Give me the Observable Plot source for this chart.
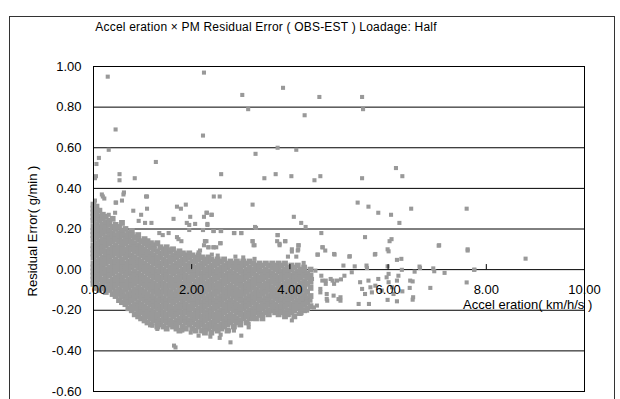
<!DOCTYPE html>
<html><head><meta charset="utf-8">
<script src="https://cdn.jsdelivr.net/npm/d3@7"></script>
<script src="https://cdn.jsdelivr.net/npm/@observablehq/plot@0.6"></script>
<style>
body{margin:0;background:#fff;font-family:"Liberation Sans",Arial,sans-serif;color:#000;}
#wrap{position:relative;width:620px;height:399px;overflow:hidden;background:#fff;}
#border{position:absolute;left:9px;top:16px;width:604px;height:400px;border:1px solid #333;}
#chart{position:absolute;left:0;top:0;}
#title{position:absolute;top:20px;left:0;width:532px;text-align:center;font-size:12px;letter-spacing:0.2px;white-space:nowrap;}
#ylab{position:absolute;left:32px;top:231px;transform:translate(-50%,-50%) rotate(-90deg);font-size:13px;white-space:nowrap;}
#xlab{position:absolute;left:463px;top:297px;font-size:13px;white-space:nowrap;}
</style></head>
<body>
<div id="wrap">
<div id="border"></div>
<div id="chart"></div>
<div id="title">Accel eration × PM Residual Error ( OBS-EST ) Loadage: Half</div>
<div id="ylab">Residual Error( g/min )</div>
<div id="xlab">Accel eration( km/h/s )</div>
</div>
<script>
const xTicks = [0, 2, 4, 6, 8, 10];
const yTicks = [-0.6, -0.4, -0.2, 0, 0.2, 0.4, 0.6, 0.8, 1.0];

// Dense cloud: x of each column and the y values read in that column
const denseX = [0.00,0.06,0.12,0.19,0.25,0.32,0.39,0.45,0.52,0.58,0.65,0.71,0.78,0.84,0.91,0.97,1.04,1.10,1.17,1.23,1.30,1.36,1.43,1.49,1.56,1.62,1.69,1.75,1.82,1.88,1.95,2.01,2.08,2.14,2.21,2.27,2.34,2.40,2.47,2.53,2.60,2.66,2.73,2.79,2.86,2.92,2.99,3.05,3.12,3.18,3.25,3.31,3.38,3.44,3.51,3.57,3.64,3.70,3.77,3.83,3.90,3.96,4.03,4.09,4.16,4.22,4.29,4.35,4.42];
const denseY = [
"0.32 0.30 0.28 0.26 0.24 0.21 0.19 0.17 0.15 0.12 0.10 0.08 0.06 0.03 0.01 -0.01 -0.03 -0.05 -0.07",
"0.31 0.29 0.27 0.25 0.22 0.20 0.18 0.16 0.13 0.11 0.09 0.07 0.04 0.02 0.00 -0.02 -0.04 -0.06 -0.09",
"0.29 0.26 0.24 0.21 0.19 0.17 0.14 0.12 0.10 0.08 0.05 0.03 0.01 -0.01 -0.03 -0.05 -0.08 -0.10",
"0.27 0.25 0.22 0.20 0.18 0.15 0.13 0.11 0.09 0.06 0.04 0.02 0.00 -0.02 -0.05 -0.07 -0.09",
"0.26 0.23 0.21 0.19 0.16 0.14 0.12 0.09 0.07 0.05 0.03 0.00 -0.02 -0.04 -0.06 -0.09 -0.11",
"0.24 0.22 0.19 0.17 0.15 0.13 0.10 0.08 0.06 0.04 0.01 -0.01 -0.03 -0.06 -0.08 -0.10",
"0.25 0.21 0.18 0.16 0.14 0.11 0.09 0.07 0.04 0.02 0.00 -0.02 -0.05 -0.07 -0.09 -0.12",
"0.22 0.20 0.17 0.15 0.12 0.10 0.08 0.05 0.03 0.01 -0.01 -0.04 -0.06 -0.08 -0.11 -0.13",
"0.21 0.18 0.16 0.14 0.11 0.09 0.07 0.04 0.02 0.00 -0.03 -0.05 -0.07 -0.10 -0.12 -0.15",
"0.23 0.19 0.17 0.14 0.12 0.10 0.08 0.05 0.03 0.01 -0.01 -0.04 -0.06 -0.08 -0.11 -0.13 -0.16",
"0.20 0.17 0.15 0.13 0.10 0.08 0.06 0.03 0.01 -0.01 -0.03 -0.06 -0.08 -0.10 -0.13 -0.15 -0.17",
"0.18 0.16 0.14 0.11 0.09 0.07 0.04 0.02 0.00 -0.02 -0.05 -0.07 -0.09 -0.12 -0.14 -0.16 -0.19",
"0.19 0.17 0.14 0.12 0.10 0.07 0.05 0.03 0.01 -0.02 -0.04 -0.06 -0.08 -0.11 -0.13 -0.15 -0.18 -0.20",
"0.16 0.13 0.11 0.09 0.06 0.04 0.02 -0.01 -0.03 -0.05 -0.07 -0.10 -0.12 -0.14 -0.17 -0.19 -0.22",
"0.17 0.15 0.12 0.10 0.08 0.05 0.03 0.01 -0.02 -0.04 -0.06 -0.09 -0.11 -0.13 -0.16 -0.18 -0.20 -0.23",
"0.14 0.11 0.09 0.07 0.04 0.02 0.00 -0.03 -0.05 -0.07 -0.10 -0.12 -0.14 -0.17 -0.19 -0.21 -0.24",
"0.15 0.13 0.10 0.08 0.06 0.03 0.01 -0.01 -0.04 -0.06 -0.08 -0.11 -0.13 -0.15 -0.18 -0.20 -0.22 -0.25",
"0.14 0.12 0.09 0.07 0.05 0.02 0.00 -0.02 -0.05 -0.07 -0.09 -0.12 -0.14 -0.16 -0.19 -0.21 -0.23 -0.26",
"0.13 0.11 0.08 0.06 0.04 0.01 -0.01 -0.03 -0.06 -0.08 -0.10 -0.13 -0.15 -0.17 -0.20 -0.22 -0.24 -0.27",
"0.12 0.10 0.07 0.05 0.03 0.00 -0.02 -0.04 -0.07 -0.09 -0.11 -0.14 -0.16 -0.18 -0.21 -0.23 -0.25",
"0.13 0.09 0.06 0.04 0.02 -0.01 -0.03 -0.05 -0.08 -0.10 -0.12 -0.15 -0.17 -0.19 -0.22 -0.24 -0.26 -0.28",
"0.11 0.08 0.06 0.03 0.01 -0.01 -0.04 -0.06 -0.08 -0.11 -0.13 -0.15 -0.18 -0.20 -0.22 -0.25 -0.27",
"0.10 0.08 0.05 0.03 0.00 -0.02 -0.04 -0.07 -0.09 -0.11 -0.14 -0.16 -0.18 -0.21 -0.23 -0.25 -0.28",
"0.11 0.09 0.07 0.04 0.02 -0.01 -0.03 -0.05 -0.08 -0.10 -0.12 -0.15 -0.17 -0.19 -0.22 -0.24 -0.26 -0.29",
"0.09 0.06 0.04 0.01 -0.01 -0.04 -0.06 -0.08 -0.11 -0.13 -0.15 -0.18 -0.20 -0.22 -0.25 -0.27",
"0.10 0.07 0.05 0.02 0.00 -0.02 -0.05 -0.07 -0.09 -0.12 -0.14 -0.16 -0.19 -0.21 -0.23 -0.26 -0.28",
"0.08 0.06 0.03 0.01 -0.01 -0.04 -0.06 -0.08 -0.11 -0.13 -0.15 -0.18 -0.20 -0.22 -0.25 -0.27 -0.29",
"0.09 0.07 0.04 0.02 -0.01 -0.03 -0.05 -0.07 -0.10 -0.12 -0.14 -0.17 -0.19 -0.21 -0.24 -0.26 -0.30",
"0.08 0.05 0.03 0.00 -0.02 -0.04 -0.07 -0.09 -0.11 -0.14 -0.16 -0.18 -0.21 -0.23 -0.25 -0.28",
"0.07 0.05 0.02 0.00 -0.03 -0.05 -0.07 -0.10 -0.12 -0.14 -0.17 -0.19 -0.21 -0.24 -0.26 -0.29",
"0.08 0.06 0.03 0.01 -0.01 -0.04 -0.06 -0.08 -0.11 -0.13 -0.15 -0.18 -0.20 -0.22 -0.25 -0.27",
"0.07 0.04 0.02 -0.01 -0.03 -0.05 -0.08 -0.10 -0.12 -0.15 -0.17 -0.19 -0.22 -0.24 -0.26 -0.29",
"0.06 0.04 0.01 -0.01 -0.03 -0.06 -0.08 -0.10 -0.13 -0.15 -0.17 -0.20 -0.22 -0.24 -0.27 -0.30",
"0.07 0.05 0.02 0.00 -0.02 -0.05 -0.07 -0.09 -0.12 -0.14 -0.16 -0.19 -0.21 -0.23 -0.26 -0.28",
"0.06 0.03 0.01 -0.02 -0.04 -0.06 -0.09 -0.11 -0.13 -0.16 -0.18 -0.20 -0.23 -0.25 -0.27 -0.30",
"0.05 0.03 0.00 -0.02 -0.04 -0.07 -0.09 -0.11 -0.14 -0.16 -0.18 -0.21 -0.23 -0.25 -0.28 -0.31",
"0.06 0.04 0.01 -0.01 -0.03 -0.06 -0.08 -0.10 -0.13 -0.15 -0.17 -0.20 -0.22 -0.24 -0.27 -0.29",
"0.05 0.02 0.00 -0.02 -0.05 -0.07 -0.09 -0.12 -0.14 -0.16 -0.19 -0.21 -0.23 -0.26 -0.28 -0.31",
"0.04 0.02 -0.01 -0.03 -0.05 -0.08 -0.10 -0.12 -0.15 -0.17 -0.19 -0.22 -0.24 -0.26 -0.29",
"0.05 0.03 0.00 -0.02 -0.04 -0.07 -0.09 -0.11 -0.14 -0.16 -0.18 -0.21 -0.23 -0.25 -0.28 -0.30",
"0.04 0.01 -0.01 -0.03 -0.06 -0.08 -0.10 -0.13 -0.15 -0.17 -0.20 -0.22 -0.24 -0.27 -0.29",
"0.05 0.02 0.00 -0.03 -0.05 -0.07 -0.10 -0.12 -0.14 -0.17 -0.19 -0.21 -0.24 -0.26 -0.28",
"0.03 0.01 -0.02 -0.04 -0.06 -0.09 -0.11 -0.13 -0.16 -0.18 -0.20 -0.23 -0.25 -0.27 -0.30",
"0.04 0.02 -0.01 -0.03 -0.05 -0.08 -0.10 -0.12 -0.15 -0.17 -0.19 -0.22 -0.24 -0.26",
"0.03 0.01 -0.02 -0.04 -0.06 -0.09 -0.11 -0.13 -0.16 -0.18 -0.20 -0.23 -0.25 -0.28",
"0.04 0.02 0.00 -0.03 -0.05 -0.07 -0.10 -0.12 -0.14 -0.17 -0.19 -0.21 -0.24 -0.26",
"0.03 0.01 -0.01 -0.04 -0.06 -0.08 -0.11 -0.13 -0.15 -0.18 -0.20 -0.22 -0.25 -0.27",
"0.04 0.02 -0.01 -0.03 -0.05 -0.08 -0.10 -0.12 -0.15 -0.17 -0.19 -0.22 -0.24",
"0.03 0.00 -0.02 -0.04 -0.07 -0.09 -0.11 -0.14 -0.16 -0.18 -0.21 -0.23 -0.26",
"0.04 0.01 -0.01 -0.03 -0.06 -0.08 -0.10 -0.13 -0.15 -0.17 -0.20 -0.22 -0.24",
"0.03 0.00 -0.02 -0.05 -0.07 -0.09 -0.12 -0.14 -0.16 -0.19 -0.21 -0.23",
"0.02 0.00 -0.03 -0.05 -0.07 -0.10 -0.12 -0.14 -0.17 -0.19 -0.21 -0.24",
"0.03 0.01 -0.01 -0.04 -0.06 -0.08 -0.11 -0.13 -0.15 -0.18 -0.20 -0.22",
"0.02 -0.01 -0.03 -0.05 -0.08 -0.10 -0.12 -0.15 -0.17 -0.19 -0.22 -0.24",
"0.03 0.00 -0.02 -0.04 -0.07 -0.09 -0.11 -0.14 -0.16 -0.18 -0.21",
"0.02 -0.01 -0.03 -0.06 -0.08 -0.10 -0.13 -0.15 -0.17 -0.20 -0.22",
"0.03 0.01 -0.02 -0.04 -0.06 -0.09 -0.11 -0.13 -0.16 -0.18 -0.20",
"0.02 0.00 -0.03 -0.05 -0.07 -0.10 -0.12 -0.14 -0.17 -0.19 -0.21",
"0.03 0.01 -0.01 -0.04 -0.06 -0.08 -0.11 -0.13 -0.15 -0.18 -0.20 -0.22",
"0.02 -0.01 -0.03 -0.05 -0.08 -0.10 -0.12 -0.15 -0.17 -0.19 -0.21",
"0.03 0.00 -0.02 -0.04 -0.07 -0.09 -0.11 -0.14 -0.16 -0.18 -0.21 -0.23",
"0.01 -0.01 -0.03 -0.06 -0.08 -0.10 -0.13 -0.15 -0.17 -0.20 -0.22",
"0.02 0.00 -0.03 -0.05 -0.07 -0.10 -0.12 -0.14 -0.17 -0.19 -0.21",
"0.01 -0.02 -0.04 -0.06 -0.09 -0.11 -0.13 -0.16 -0.18 -0.20 -0.23",
"0.02 -0.01 -0.03 -0.05 -0.08 -0.10 -0.12 -0.15 -0.17 -0.19",
"0.00 -0.02 -0.04 -0.07 -0.09 -0.11 -0.14 -0.16 -0.18 -0.21",
"0.01 -0.01 -0.03 -0.06 -0.08 -0.10 -0.13 -0.15 -0.17 -0.20",
"-0.02 -0.04 -0.07 -0.11 -0.14 -0.16 -0.19",
"0.00 -0.03 -0.06 -0.09 -0.13 -0.18"
];

// Scattered points read individually [x, y]
const scatterPoints = [
[0.29,0.95],[0.45,0.69],[0.31,0.59],[0.11,0.55],[0.06,0.52],[0.03,0.45],[0.05,0.46],[0.53,0.47],[0.53,0.44],[0.84,0.45],[1.27,0.53],
[0.17,0.37],[0.19,0.36],[0.22,0.35],[0.03,0.34],[0.61,0.37],[0.62,0.38],[0.58,0.34],[0.46,0.33],[0.45,0.33],[1.07,0.36],[1.09,0.36],
[0.81,0.29],[0.97,0.27],[1.09,0.30],[0.44,0.28],[0.31,0.27],[0.92,0.24],[1.05,0.23],[1.18,0.23],[1.34,0.18],[1.41,0.17],[1.53,0.18],[1.29,0.13],
[1.70,0.31],[1.78,0.30],[1.88,0.32],[1.63,0.25],[1.97,0.26],[1.90,0.23],[1.95,0.22],[2.07,0.225],[2.31,0.28],[2.41,0.27],[2.32,0.225],
[1.95,0.195],[2.23,0.195],[2.44,0.19],[2.59,0.19],[2.87,0.18],[3.01,0.18],[1.70,0.16],[1.73,0.15],[1.79,0.14],[2.27,0.14],[2.25,0.12],
[2.58,0.13],[2.44,0.11],[2.34,0.11],[1.56,0.10],[1.83,0.08],[2.14,0.085],[2.17,0.094],[2.41,0.074],[2.53,0.069],[2.89,0.064],[3.05,0.06],
[3.31,0.205],[3.24,0.14],[3.28,0.12],[3.75,0.17],[3.79,0.127],[3.90,0.14],[4.18,0.12],[4.16,0.094],[4.04,0.089],[3.96,0.064],[4.13,0.064],
[4.57,0.074],[4.66,0.11],[4.72,0.094],[3.28,0.053],
[2.25,0.97],[3.03,0.86],[3.86,0.895],[3.15,0.79],[4.60,0.85],[5.47,0.85],[5.49,0.79],[4.30,0.76],[2.23,0.66],[3.30,0.57],[3.75,0.60],
[4.13,0.59],[2.60,0.47],[3.48,0.45],[3.71,0.47],[4.03,0.46],[4.50,0.44],[4.62,0.46],[5.47,0.45],[6.16,0.50],[6.29,0.46],[2.45,0.36],
[2.57,0.36],[3.24,0.32],[5.38,0.33],[5.60,0.31],[5.80,0.28],[6.06,0.27],[6.47,0.30],[7.60,0.30],[6.23,0.23],[4.08,0.26],[4.23,0.23],
[4.32,0.21],[2.25,0.26],[2.30,0.28],[2.40,0.27],[2.32,0.22],[2.23,0.195],[2.45,0.19],[2.60,0.19],[2.86,0.18],[3.01,0.18],[3.29,0.21],
[4.64,0.18],[5.53,0.16],[6.03,0.14],[6.07,0.15],[7.04,0.12],[7.62,0.10],[3.24,0.14],[3.26,0.12],[3.75,0.17],[3.74,0.14],[3.79,0.12],
[3.91,0.14],[4.17,0.12],[2.27,0.14],[2.30,0.14],[2.34,0.11],[2.45,0.11],[2.50,0.11],[2.59,0.13],[4.67,0.11],[4.04,0.10],[4.17,0.10],[5.99,0.10],
[4.56,0.074],[4.91,0.074],[5.22,0.066],[5.73,0.074],[6.01,0.09],[6.18,0.048],[6.27,0.053],[7.03,0.118],[7.62,0.094],[8.80,0.054],
[4.28,0.033],[5.09,0.02],[5.32,0.016],[5.56,0.02],[5.57,0.008],[5.99,0.016],[6.64,0.015],[6.92,0.006],[7.15,-0.016],[7.76,0.0],
[7.60,-0.063],[6.86,-0.09],[6.29,-0.107],[6.50,-0.148],[6.51,-0.136],[6.18,-0.156],[5.99,-0.149],[5.61,-0.169],[5.40,-0.169],
[5.03,-0.136],[5.03,-0.153],[4.76,-0.153],[4.90,0.077],[5.21,0.064],[5.74,0.077],[6.28,-0.001],[6.54,-0.01],[6.65,0.008],
[6.94,-0.008],[7.75,-0.001],[6.45,-0.054],[6.50,-0.058],[6.44,-0.09],[5.26,-0.013],[5.11,-0.03],[5.04,-0.048],[4.87,-0.054],
[4.64,-0.03],[4.45,-0.046],
[5.43,-0.062],[5.47,-0.095],[5.53,-0.12],[5.60,-0.054],[5.64,-0.087],[5.67,-0.112],[5.74,-0.079],[5.80,-0.046],[5.87,-0.103],
[5.97,-0.038],[6.01,-0.062],[6.08,-0.087],[6.11,-0.12],[6.18,-0.054],[6.21,-0.03],[6.01,-0.021],
[4.66,-0.054],[4.73,-0.07],[4.83,-0.046],[4.90,-0.07],[4.96,-0.054],[4.62,-0.112],[4.75,-0.12],[4.89,-0.128],[4.99,-0.145],
[4.28,-0.128],[4.42,-0.153],[4.35,-0.202],[4.22,-0.218],[4.25,-0.145],[4.49,-0.186],
[4.52,-0.005],[4.73,-0.054],[4.62,-0.095],[4.55,-0.177],[4.24,-0.194],[4.18,-0.218],[4.04,-0.25],[4.75,-0.144],[3.22,-0.243],[3.16,-0.284],
[1.20,-0.276],[1.30,-0.292],[1.48,-0.289],[1.64,-0.374],[1.67,-0.383],[1.81,-0.30],[2.28,-0.30],[2.38,-0.33],[2.57,-0.336],[2.79,-0.358],
[2.59,-0.32],[2.76,-0.30],[2.86,-0.30],[3.16,-0.267],[3.26,-0.243],[3.40,-0.227],[3.59,-0.202],[0.89,-0.218],[1.02,-0.243],[1.12,-0.26],
[1.98,-0.31],[2.14,-0.325],[3.01,-0.325],[2.48,-0.28]
];

const densePoints = [];
denseX.forEach((x, i) => {
  denseY[i].split(" ").forEach(v => densePoints.push({x, y: +v}));
});
const sparsePoints = scatterPoints.map(([x, y]) => ({x, y}));

const chart = Plot.plot({
  width: 620, height: 399,
  marginLeft: 93, marginRight: 36, marginTop: 66, marginBottom: 8,
  x: {domain: [0, 10]},
  y: {domain: [-0.6, 1.0]},
  style: {fontFamily: "'Liberation Sans', Arial, sans-serif", fontSize: "13px", background: "transparent", color: "#000"},
  marks: [
    Plot.gridY(yTicks, {stroke: "#000", strokeOpacity: 1}),
    Plot.dot(densePoints, {x: "x", y: "y", symbol: "square", r: 3.3, fill: "#999999", stroke: null}),
    Plot.dot(sparsePoints, {x: "x", y: "y", symbol: "square", r: 2.3, fill: "#999999", stroke: null}),
    Plot.ruleX(xTicks.slice(1, -1), {x: d => d, y1: 0, y2: 0.025, stroke: "#000"}),
    Plot.axisY(yTicks, {tickSize: 0, tickPadding: 12, tickFormat: d => d.toFixed(2), fontSize: 13, label: null}),
    Plot.axisX([], {label: null, tickSize: 0}),
    Plot.text(xTicks, {x: d => d, y: 0, dy: 20, text: d => d.toFixed(2), fontSize: 13}),
    Plot.frame({stroke: "#000"})
  ]
});
document.getElementById("chart").appendChild(chart);
</script>
</body></html>
